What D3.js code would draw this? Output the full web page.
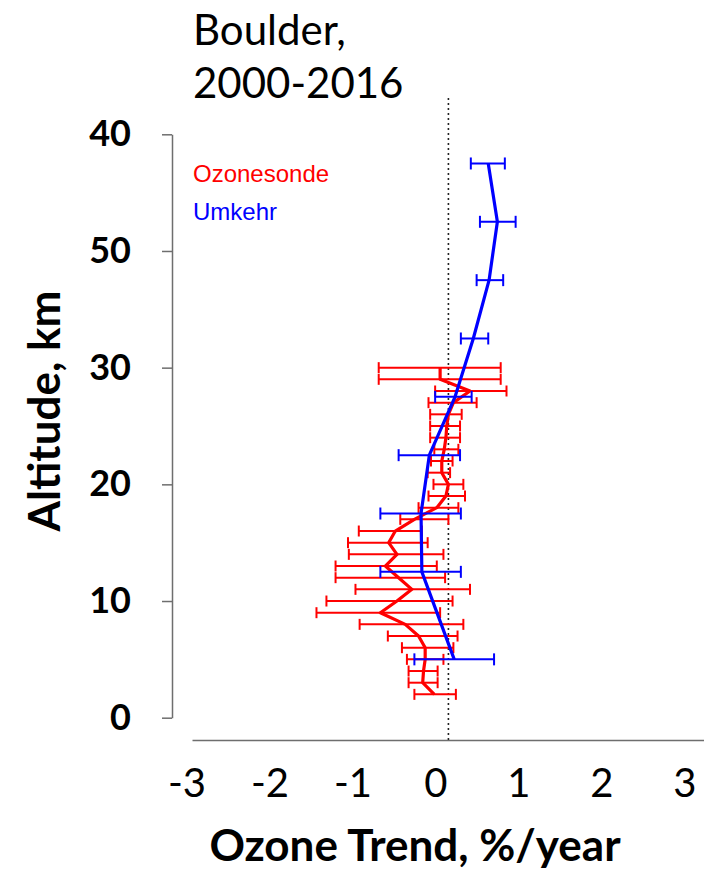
<!DOCTYPE html>
<html>
<head>
<meta charset="utf-8">
<script src="https://cdn.jsdelivr.net/npm/d3@7"></script>
<style>
    body { margin: 0; background: #ffffff; }
    #ozone_chart svg { display: block; }
    .axis text { font-family: Lato, sans-serif; fill: #000; }
    .axis path, .axis line { stroke: #6e6e6e; stroke-width: 1.5; }
</style>
</head>
<body>
<div id="ozone_chart"></div>
<script>
// ozonesonde trends, 1 km layers
var sondeAlt   = [2, 3, 4, 5, 6, 7, 8, 9, 10, 11, 12, 13, 14, 15, 16, 17, 18, 19, 20, 21, 22, 23, 24, 25, 26, 27, 28, 29, 30];
var sondeTrend = [-0.17, -0.31, -0.30, -0.28, -0.28, -0.36, -0.52, -0.82, -0.62, -0.44, -0.60, -0.76, -0.62, -0.72, -0.64, -0.41, -0.14, -0.03, 0.00, -0.08, -0.08, -0.05, -0.03, -0.02, 0.00, 0.06, 0.26, -0.10, -0.10];
var sondeLow   = [-0.41, -0.48, -0.48, -0.50, -0.56, -0.73, -1.07, -1.59, -1.47, -1.12, -1.36, -1.36, -1.20, -1.21, -1.08, -0.58, -0.36, -0.24, -0.18, -0.25, -0.21, -0.17, -0.22, -0.22, -0.22, -0.24, -0.16, -0.84, -0.84];
var sondeHigh  = [0.09, -0.13, -0.13, -0.06, 0.06, 0.11, 0.18, -0.10, 0.05, 0.26, -0.04, -0.14, -0.06, -0.25, -0.32, 0.00, 0.12, 0.20, 0.18, 0.02, 0.05, 0.12, 0.14, 0.14, 0.16, 0.34, 0.70, 0.63, 0.63];

// Umkehr trends, layer centres
var umkehrAlt   = [5, 12.5, 17.5, 22.5, 27.5, 32.5, 37.5, 42.5, 47.5];
var umkehrTrend = [0.07, -0.32, -0.33, -0.23, 0.08, 0.30, 0.49, 0.59, 0.48];
var umkehrLow   = [-0.41, -0.82, -0.82, -0.60, -0.16, 0.15, 0.34, 0.38, 0.27];
var umkehrHigh  = [0.55, 0.15, 0.15, 0.14, 0.28, 0.48, 0.66, 0.81, 0.68];

// axes (the y labels are printed as on the original slide)
var xTicks = [-3, -2, -1, 0, 1, 2, 3];
var xTickLabels = ['-3', '-2', '-1', '0', '1', '2', '3'];
var yTicks = [0, 10, 20, 30, 40, 50];
var yTickLabels = ['0', '10', '20', '30', '50', '40'];

var seriesNames = ['Ozonesonde', 'Umkehr'];
var titleLines = ['Boulder,', '2000-2016'];

var OZONE_CHART = {

    selector: '#ozone_chart',
    svg: null,

    options: {
        width: 704,
        height: 871,
        xDomain: [-3.09, 3.08],
        xRange: [192, 704],
        yDomain: [0, 50],
        yRange: [717.7, 134.3],
        colors: ['#ff0000', '#0000ff'],
        font: 'Lato, sans-serif'
    },

    init: function(){
        var el = d3.select(this.selector);
        if(el.empty()){
            console.warn('init(): Element for "'+this.selector+'" selector not found');
            return;
        }
        this.draw();
    },

    rows: function(alt, trend, low, high){
        return alt.map(function(a, i){
            return { alt: a, trend: trend[i], low: low[i], high: high[i] };
        });
    },

    draw: function(){
        var self = this,
            opt = this.options;

        var xScale = d3.scaleLinear().domain(opt.xDomain).range(opt.xRange),
            yScale = d3.scaleLinear().domain(opt.yDomain).range(opt.yRange);

        var svg = d3.select(this.selector).append('svg')
            .attr('xmlns', 'http://www.w3.org/2000/svg')
            .attr('width', opt.width)
            .attr('height', opt.height);
        this.svg = svg;

        svg.append('rect')
            .attr('width', opt.width)
            .attr('height', opt.height)
            .attr('fill', '#ffffff');

        // title
        svg.append('g').selectAll('text')
            .data(titleLines)
            .enter()
            .append('text')
            .attr('x', 193)
            .attr('y', function(d, i){ return 45 + i*53; })
            .attr('font-family', opt.font)
            .attr('font-size', 42)
            .attr('fill', '#000')
            .text(function(d){ return d; });

        // y axis
        var yAxis = svg.append('g')
            .attr('class', 'axis y')
            .attr('transform', 'translate(172,0)')
            .call(d3.axisLeft(yScale)
                .tickValues(yTicks)
                .tickSize(10)
                .tickSizeOuter(0)
                .tickFormat(function(d, i){ return yTickLabels[i]; }));
        yAxis.selectAll('text')
            .attr('x', -41)
            .attr('font-size', 36)
            .attr('font-weight', 'bold');

        // x axis, labels sit a little left of their values like on the slide
        var xAxis = svg.append('g')
            .attr('class', 'axis x')
            .attr('transform', 'translate(0,740)')
            .call(d3.axisBottom(xScale)
                .tickValues(xTicks)
                .tickSize(0)
                .tickSizeOuter(0)
                .tickFormat(function(d, i){ return xTickLabels[i]; }));
        xAxis.selectAll('text')
            .attr('y', 57)
            .attr('dy', null)
            .attr('dx', -13)
            .attr('font-size', 40);

        // zero line
        svg.append('line')
            .attr('x1', xScale(0))
            .attr('x2', xScale(0))
            .attr('y1', 98)
            .attr('y2', 740)
            .attr('stroke', '#222')
            .attr('stroke-width', 1.6)
            .attr('stroke-dasharray', '2,3');

        var series = [
            { label: seriesNames[0], color: opt.colors[0], cap: 5.5,
              values: self.rows(sondeAlt, sondeTrend, sondeLow, sondeHigh) },
            { label: seriesNames[1], color: opt.colors[1], cap: 6,
              values: self.rows(umkehrAlt, umkehrTrend, umkehrLow, umkehrHigh) }
        ];

        var line = d3.line()
            .x(function(d){ return xScale(d.trend); })
            .y(function(d){ return yScale(d.alt); });

        series.forEach(function(s){
            var g = svg.append('g').attr('class', 'series');

            var bars = g.selectAll('.bar')
                .data(s.values)
                .enter()
                .append('g')
                .attr('class', 'bar')
                .attr('stroke', s.color)
                .attr('stroke-width', 2);
            bars.append('line')
                .attr('x1', function(d){ return xScale(d.low); })
                .attr('x2', function(d){ return xScale(d.high); })
                .attr('y1', function(d){ return yScale(d.alt); })
                .attr('y2', function(d){ return yScale(d.alt); });
            bars.append('line')
                .attr('x1', function(d){ return xScale(d.low); })
                .attr('x2', function(d){ return xScale(d.low); })
                .attr('y1', function(d){ return yScale(d.alt) - s.cap; })
                .attr('y2', function(d){ return yScale(d.alt) + s.cap; });
            bars.append('line')
                .attr('x1', function(d){ return xScale(d.high); })
                .attr('x2', function(d){ return xScale(d.high); })
                .attr('y1', function(d){ return yScale(d.alt) - s.cap; })
                .attr('y2', function(d){ return yScale(d.alt) + s.cap; });

            g.append('path')
                .datum(s.values)
                .attr('d', line)
                .attr('fill', 'none')
                .attr('stroke', s.color)
                .attr('stroke-width', 3.2)
                .attr('stroke-linejoin', 'round');
        });

        // legend
        svg.append('g').selectAll('text')
            .data(series)
            .enter()
            .append('text')
            .attr('x', 193)
            .attr('y', function(d, i){ return 182 + i*38; })
            .attr('font-family', '"Liberation Sans", Arial, sans-serif')
            .attr('font-size', 24)
            .attr('fill', function(d){ return d.color; })
            .text(function(d){ return d.label; });

        // axis titles
        svg.append('text')
            .attr('x', 415)
            .attr('y', 861)
            .attr('text-anchor', 'middle')
            .attr('font-family', opt.font)
            .attr('font-weight', 'bold')
            .attr('font-size', 44)
            .text('Ozone Trend, %/year');

        svg.append('text')
            .attr('transform', 'translate(60,411) rotate(-90)')
            .attr('text-anchor', 'middle')
            .attr('font-family', opt.font)
            .attr('font-weight', 'bold')
            .attr('font-size', 44)
            .text('Altitude, km');
    }
};

OZONE_CHART.init();
</script>
</body>
</html>
